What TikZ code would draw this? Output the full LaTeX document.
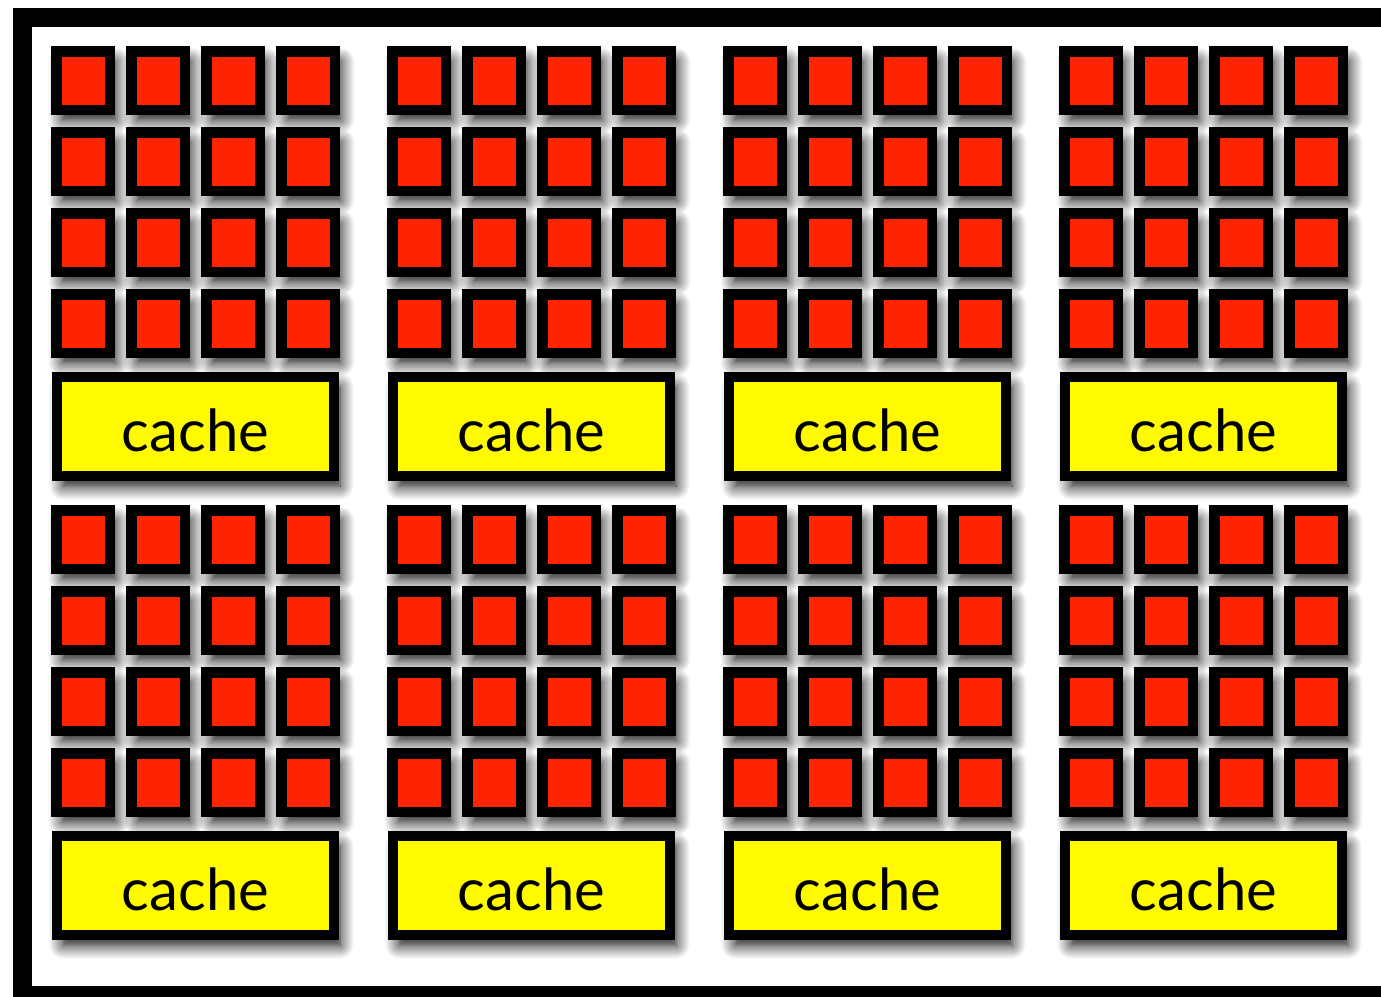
\documentclass[tikz,border=0pt]{standalone}
\usepackage{fontspec}
\setmainfont{Lato}
\usetikzlibrary{shadows.blur}

\definecolor{corered}{RGB}{255,36,0}
\definecolor{cacheyellow}{RGB}{255,250,0}

\tikzset{
  soft/.style={blur shadow={shadow xshift=3pt, shadow yshift=-5pt,
    shadow blur radius=7pt, shadow blur steps=10, shadow opacity=100}},
  core/.style={draw=black, line width=5.25pt, fill=corered, inner sep=0pt,
    minimum width=26.75pt, minimum height=29.25pt, soft},
  cachebox/.style={draw=black, line width=5pt, fill=cacheyellow, inner sep=0pt,
    minimum width=138.5pt, minimum height=49.5pt, soft,
    text height=25pt, text depth=0pt,
    font=\fontsize{29}{29}\selectfont}
}

\begin{document}
\begin{tikzpicture}[x=0.5pt, y=-0.5pt]

\useasboundingbox (0, 0) rectangle (1381, 996);

% Chip outline
\begin{scope}
  \clip (0, 0) rectangle (1381, 996);
  \draw[line width=9.5pt] (22.5, 17.5) rectangle (1390, 995.5);
\end{scope}

% Cores, 4x4 per block
\foreach \b in {0, 1}
  \foreach \g in {0, ..., 3}
    \foreach \r in {0, ..., 3}
      \foreach \c in {0, ..., 3}
        \node[core] (core-\b-\g-\r-\c) at ({83 + 336*\g + 75*\c}, {80.5 + 459*\b + 81*\r}) {};

% Caches under each block
\foreach \b in {0, 1}
  \foreach \g in {0, ..., 3}
    \node[cachebox] (cache-\b-\g) at ({195.5 + 336*\g}, {426.5 + 459*\b}) {cache};

\end{tikzpicture}
\end{document}
